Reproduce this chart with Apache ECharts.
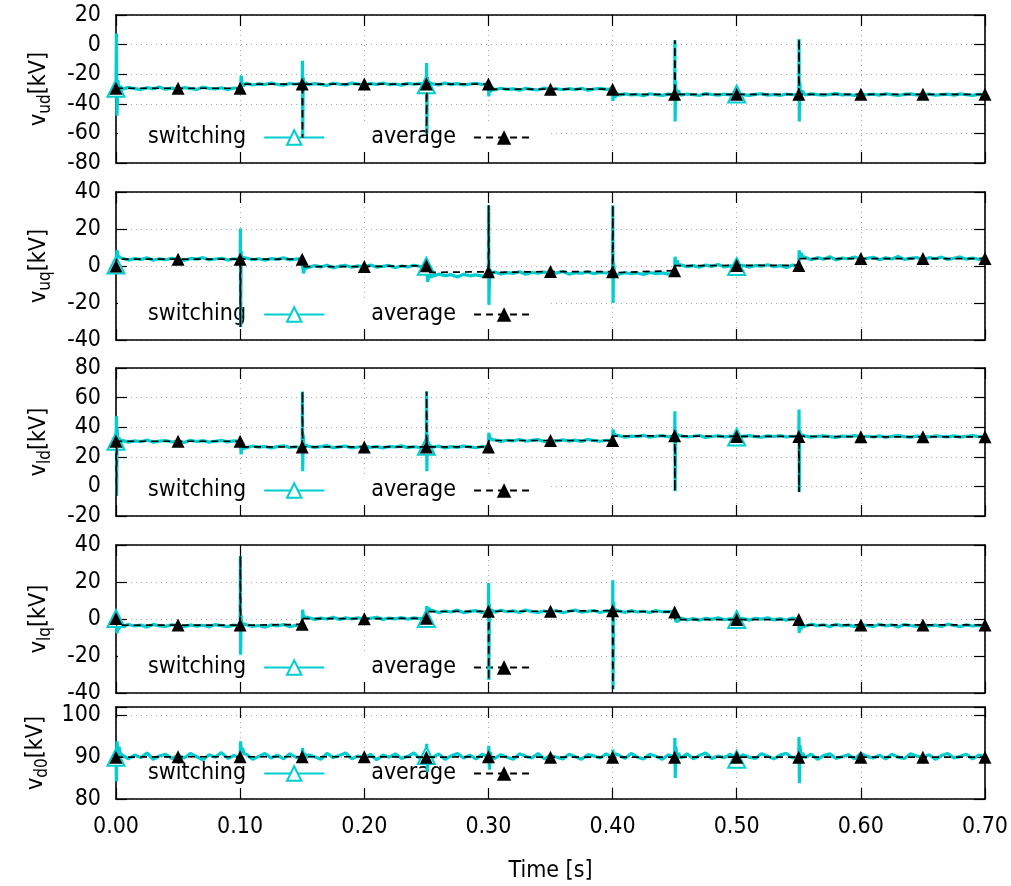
<!DOCTYPE html>
<html><head><meta charset="utf-8">
<script src="https://cdn.jsdelivr.net/npm/echarts@6/dist/echarts.min.js"></script>
<style>html,body{margin:0;padding:0;background:#fff}#c{width:1011px;height:886px}</style>
</head><body><div id="c"></div>
<script>
// ---------------- DATA ----------------
const xTickLabels = ['0.00','0.10','0.20','0.30','0.40','0.50','0.60','0.70'];
const panelSubs = ['ud', 'uq', 'ld', 'lq', 'd0'];
const yRanges = [[-80, 20, 20], [-40, 40, 20], [-20, 80, 20], [-40, 40, 20], [80, 102, 10]];
const legendNames = ['switching', 'average'];
const swStep = 0.005;          // sample spacing of switching trace
const swMarkerIdx = [0, 50, 100]; // open triangles at t = 0, 0.25, 0.50
const avgStep = 0.05;          // average markers every 0.05 s

// v_ud switching samples (t = 0 .. 0.70 step 0.005)
const sw_ud = [-29.5,
-30.2,-28.9,-29.8,-30.4,-29.1,-29.9,-28.7,-30.1,-29.4,-30.6,-29.0,-29.7,-30.3,-28.8,-29.6,-30.0,-29.2,-30.5,-29.3,-29.8,
-26.2,-27.3,-26.5,-27.0,-25.9,-26.9,-27.4,-26.3,-26.8,-25.8,-27.1,-26.4,-26.9,-27.5,-26.1,-26.7,-27.2,-26.0,-26.6,-27.3,
-26.4,-26.9,-25.9,-27.0,-26.6,-27.4,-26.2,-26.8,-26.3,-27.1,-26.5,-27.2,-26.0,-26.9,-26.4,-27.3,-26.7,-26.1,-27.0,-26.6,
-30.6,-29.5,-30.3,-29.9,-30.8,-29.6,-30.2,-30.7,-29.4,-30.1,-29.8,-30.5,-29.7,-30.4,-29.5,-30.9,-30.0,-29.6,-30.3,-29.9,
-34.2,-33.3,-34.0,-33.6,-34.5,-33.2,-33.9,-34.3,-33.5,-33.8,-34.1,-33.4,-33.9,-34.4,-33.1,-33.7,-34.2,-33.5,-34.0,-33.3,
-33.8,-34.3,-33.6,-33.2,-34.1,-33.7,-34.4,-33.4,-33.9,-33.5,-34.0,-33.3,-33.8,-34.2,-33.6,-33.1,-34.0,-33.7,-34.3,-33.4,
-33.9,-33.5,-34.1,-33.2,-33.8,-34.4,-33.6,-33.3,-34.0,-33.7,-33.4,-34.2,-33.8,-33.5,-34.1,-33.3,-33.9,-34.3,-33.6,-33.8];
const swEv_ud = [[0.0003,7.5],[0.0008,-48],[0.0015,-24],[0.0025,-33],[0.0035,-28],
[0.1003,-32],[0.1008,-21],[0.1015,-25],[0.1025,-28],
[0.1502,-11],[0.1504,-63],[0.1508,-22],[0.1515,-30],[0.1525,-25.5],
[0.2502,-12.5],[0.2504,-60],[0.2508,-22],[0.2515,-30],[0.2525,-25.5],
[0.3003,-35],[0.3010,-27],[0.3020,-32],[0.3030,-29],
[0.4003,-38],[0.4010,-31],[0.4020,-36],[0.4030,-32.5],
[0.4502,3],[0.4504,-52],[0.4508,-25],[0.4515,-38],[0.4525,-31],
[0.5502,3.8],[0.5504,-52],[0.5508,-25],[0.5515,-38],[0.5525,-31]];
const avg_ud = [-29.5,-29.5,-29.5,-26.7,-26.7,-26.7,-26.7,-30.1,-30.1,-33.6,-33.6,-33.6,-33.6,-33.6,-33.6];
const avgEv_ud = [[0.1003,-26.7],[0.1502,-63],[0.1504,-26.7],[0.2502,-60],[0.2504,-26.7],
[0.3003,-30.1],[0.4003,-33.6],[0.4502,3],[0.4504,-33.6],[0.5502,3.8],[0.5504,-33.6]];

// v_uq
const sw_uq = [0.5,
4.3,3.2,4.0,3.5,4.4,3.1,3.9,3.4,4.2,3.6,3.0,4.1,3.7,4.5,3.3,3.8,4.2,3.2,3.9,3.5,
4.3,3.4,3.9,3.1,4.0,3.6,4.4,3.3,3.8,3.7,
-0.8,0.2,-0.5,0.4,-1.0,-0.1,0.3,-0.7,0.1,-0.4,0.5,-0.6,-0.2,0.3,-0.9,0.0,-0.5,0.4,-0.3,-0.1,
-5.6,-4.4,-5.2,-4.7,-5.9,-4.5,-5.3,-4.8,-5.5,-4.9,
-3.2,-4.3,-3.6,-4.0,-3.1,-4.5,-3.5,-3.9,-3.3,-4.2,-3.7,-3.0,-4.4,-3.6,-3.9,-3.2,-4.1,-3.5,-3.8,-3.4,
-4.5,-3.6,-4.2,-3.8,-4.6,-3.5,-4.1,-3.7,-4.4,-3.9,
0.6,-0.4,0.2,-0.7,0.5,-0.2,0.8,-0.5,0.1,-0.3,0.4,-0.6,0.3,-0.1,0.7,-0.4,0.2,-0.8,0.5,0.0,
4.8,3.4,4.5,3.7,5.0,3.3,4.3,3.9,4.9,3.5,4.2,4.7,3.4,4.4,3.8,5.1,3.6,4.1,4.6,3.3,
4.5,3.9,4.8,3.5,4.2,4.9,3.7,4.3,3.6,4.4];
const swEv_uq = [[0.0003,3],[0.0008,8.5],[0.0015,5.5],[0.0025,6.5],[0.0035,4.5],
[0.1002,20.3],[0.1004,-33],[0.1008,8],[0.1015,1.5],[0.1025,4.5],
[0.1503,1],[0.1510,-4],[0.1520,-1.5],[0.1530,-2.5],
[0.2503,3],[0.2510,-8.5],[0.2520,-6],[0.2530,-7],
[0.3002,32.8],[0.3004,-21],[0.3008,-8],[0.3015,-2],[0.3025,-4.5],
[0.4002,32.8],[0.4004,-20],[0.4008,2],[0.4015,-3],[0.4025,-5],
[0.4503,5],[0.4510,1],[0.4520,3],[0.4530,0.5],
[0.5503,8.5],[0.5510,5],[0.5520,7],[0.5530,5]];
const avg_uq = [0,3.7,3.7,3.7,-0.3,0.2,-3.1,-3.0,-3.1,-2.5,0.3,0.3,4.0,4.0,4.0];
const avgEv_uq = [[0.0005,3.7],[0.1002,-33],[0.1004,3.7],[0.1503,-0.3],[0.2503,-3.5],
[0.3002,32.8],[0.3004,-3.5],[0.4002,32.8],[0.4004,-3.6],[0.4503,0.2],[0.5503,4.0]];

// v_ld
const sw_ld = [30.5,
31.1,29.9,30.8,30.2,31.3,29.8,30.6,31.0,30.0,30.7,29.7,31.2,30.3,30.9,29.9,30.5,31.1,30.1,30.8,30.4,
26.1,27.3,26.5,27.0,25.9,26.9,27.4,26.3,26.8,25.8,27.1,26.4,26.9,27.5,26.1,26.7,27.2,26.0,26.6,27.3,
26.4,26.9,25.9,27.0,26.6,27.4,26.2,26.8,26.3,27.1,26.5,27.2,26.0,26.9,26.4,27.3,26.7,26.1,27.0,26.6,
31.5,30.4,31.2,30.8,31.7,30.5,31.1,31.6,30.3,31.0,30.7,31.4,30.6,31.3,30.4,31.8,30.9,30.5,31.2,30.8,
34.3,33.2,34.0,33.6,34.5,33.2,33.9,34.3,33.5,33.8,34.1,33.4,33.9,34.4,33.1,33.7,34.2,33.5,34.0,33.3,
33.8,34.3,33.6,33.2,34.1,33.7,34.4,33.4,33.9,33.5,34.0,33.3,33.8,34.2,33.6,33.1,34.0,33.7,34.3,33.4,
33.9,33.5,34.1,33.2,33.8,34.4,33.6,33.3,34.0,33.7,33.4,34.2,33.8,33.5,34.1,33.3,33.9,34.3,33.6,33.8];
const swEv_ld = [[0.0003,47.4],[0.0005,-6.5],[0.0009,40],[0.0015,26],[0.0025,33],[0.0035,29.5],
[0.1003,28],[0.1008,21.6],[0.1015,29],[0.1025,25.5],
[0.1502,64.2],[0.1504,10.3],[0.1508,35],[0.1515,23],[0.1525,28],
[0.2502,64.2],[0.2504,10.3],[0.2508,35],[0.2515,23],[0.2525,28],
[0.3003,36.2],[0.3010,33],[0.3020,32],[0.3030,31.5],
[0.4003,38.4],[0.4010,35.5],[0.4020,36],[0.4030,34.5],
[0.4502,50.8],[0.4504,-3.2],[0.4508,38],[0.4515,31],[0.4525,35],
[0.5502,52],[0.5504,-3.8],[0.5508,38],[0.5515,31],[0.5525,35]];
const avg_ld = [30.5,30.5,30.5,26.7,26.7,26.7,26.7,31.0,31.0,34.2,33.8,33.8,33.5,33.5,33.5];
const avgEv_ld = [[0.0003,-6.5],[0.0006,30.5],[0.1003,26.7],[0.1502,64.2],[0.1504,26.7],
[0.2502,64.2],[0.2504,26.7],[0.3003,31.0],[0.4003,34.0],[0.4502,-3.2],[0.4504,34.0],
[0.5502,-3.8],[0.5504,33.8]];

// v_lq
const sw_lq = [0.3,
-4.1,-3.0,-3.8,-3.3,-4.4,-2.9,-3.7,-4.0,-3.1,-3.6,-4.2,-3.2,-3.9,-3.4,-4.3,-3.0,-3.6,-4.1,-3.3,-3.8,
-3.1,-4.0,-3.5,-4.4,-3.2,-3.7,-3.0,-4.2,-3.4,-3.6,
0.8,-0.2,0.5,0.0,0.9,-0.3,0.6,0.1,0.7,-0.1,0.4,0.9,-0.2,0.5,0.1,0.8,-0.1,0.6,0.2,0.3,
4.6,3.5,4.3,3.8,4.8,3.4,4.1,4.5,3.6,4.2,3.7,4.7,3.9,4.4,3.5,4.9,4.0,3.6,4.3,3.8,
4.5,3.4,4.2,4.8,3.7,4.1,4.6,3.5,4.4,3.9,4.3,3.6,4.5,3.8,4.2,3.5,4.6,3.9,4.1,3.7,
0.5,-0.5,0.2,-0.7,0.4,-0.2,0.6,-0.4,0.1,-0.3,0.3,-0.6,0.4,-0.1,0.6,-0.5,0.2,-0.7,0.5,-0.2,
-3.9,-2.8,-3.6,-3.1,-4.2,-2.9,-3.7,-3.3,-4.0,-3.0,-3.5,-4.1,-2.9,-3.8,-3.2,-4.3,-3.0,-3.6,-3.9,-3.1,
-3.7,-3.3,-4.0,-2.8,-3.5,-4.1,-3.2,-3.8,-3.4,-3.6];
const swEv_lq = [[0.0003,-3],[0.0008,-7.6],[0.0015,-5.5],[0.0025,-6],[0.0035,-4.2],
[0.1002,34],[0.1004,-19.3],[0.1008,2],[0.1015,-6],[0.1025,-2.5],
[0.1503,5],[0.1510,1.5],[0.1520,2.5],[0.1530,1],
[0.2503,7],[0.2510,4],[0.2520,6],[0.2530,4.5],
[0.3002,19.5],[0.3004,-33],[0.3008,8],[0.3015,2],[0.3025,5],
[0.4002,21],[0.4004,-38],[0.4008,9],[0.4015,2.5],[0.4025,5],
[0.4503,4.5],[0.4510,-1.5],[0.4520,-2.5],[0.4530,-1],
[0.5503,-7.5],[0.5510,-4],[0.5520,-5.5],[0.5530,-4]];
const avg_lq = [0.3,-3.3,-3.3,-2.9,0.2,0.4,4.2,4.2,4.5,3.8,-0.3,-0.3,-3.2,-3.2,-3.2];
const avgEv_lq = [[0.0005,-3.4],[0.1002,34],[0.1004,-3.4],[0.1503,0.2],[0.2503,4.0],
[0.3002,-33],[0.3004,4.2],[0.4002,-38],[0.4004,4.2],[0.4503,-0.3],[0.5503,-3.3]];

// v_d0
const sw_d0 = [90.0,
90.8,89.6,90.5,89.9,91.0,89.5,90.3,90.7,89.7,90.4,89.8,90.9,90.1,89.4,90.6,90.0,91.1,89.7,90.4,89.9,
90.7,89.5,90.2,90.9,89.8,90.5,89.6,90.8,90.0,89.7,90.6,90.1,89.5,90.9,89.9,90.4,91.0,89.6,90.3,89.8,
90.7,89.4,90.5,90.0,90.8,89.7,90.2,91.0,89.6,90.4,89.9,90.8,89.5,90.3,90.9,89.8,90.5,89.6,90.7,90.1,
89.7,90.6,90.0,89.5,90.8,90.2,89.8,90.9,89.6,90.4,90.0,89.6,90.7,90.1,89.5,90.6,90.3,89.8,90.8,89.9,
90.5,89.7,90.9,90.0,89.6,90.7,90.2,89.5,90.6,90.1,89.8,90.8,89.6,90.4,91.0,89.7,90.3,89.9,90.7,89.5,
90.6,90.0,89.7,90.8,90.2,89.6,90.5,90.9,89.8,90.3,89.9,90.7,89.5,90.4,90.8,89.7,90.1,90.6,89.6,90.9,
90.2,89.8,90.5,89.6,90.7,90.0,89.7,90.8,90.3,89.9,90.6,89.5,90.4,90.9,89.8,90.2,90.7,89.6,90.5,90.1];
const swEv_d0 = [[0.0003,84.2],[0.0008,93.8],[0.0015,91.5],[0.0025,92.5],[0.0035,90.8],
[0.1003,93.8],[0.1010,91.5],[0.1020,92.2],[0.1030,90.9],
[0.1503,92.2],[0.1510,88.8],[0.1520,91],[0.1530,89.8],
[0.2503,93.2],[0.2508,86.5],[0.2515,91.5],[0.2525,89.5],
[0.3003,92.7],[0.3008,87],[0.3015,91.2],[0.3025,89.6],
[0.4003,91.8],[0.4010,89],[0.4020,90.8],
[0.4502,94.6],[0.4505,85],[0.4510,92.5],[0.4520,89],[0.4530,91],
[0.5502,94.8],[0.5505,83.8],[0.5510,92.8],[0.5520,89],[0.5530,91]];
const avg_d0 = [90.0,90.1,90.1,90.1,90.1,90.0,90.1,90.0,90.0,90.0,90.0,90.0,90.0,90.0,90.0];
const avgEv_d0 = [];

const swData = [sw_ud, sw_uq, sw_ld, sw_lq, sw_d0];
const swEvents = [swEv_ud, swEv_uq, swEv_ld, swEv_lq, swEv_d0];
const avgData = [avg_ud, avg_uq, avg_ld, avg_lq, avg_d0];
const avgEvents = [avgEv_ud, avgEv_uq, avgEv_ld, avgEv_lq, avgEv_d0];

// ---------------- STYLE / LAYOUT ----------------
const FONT = "'DejaVu Sans Condensed','DejaVu Sans',sans-serif";
const FS = 23;
const CYAN = '#00ced1';
const gridTops = [15, 192, 368, 545, 707];
const gridHeights = [148, 148, 148, 148, 92];
const LEFT = 116, RIGHT = 26;

function buildSw(base, ev) {
  const pts = base.map((v, i) => ({ t: i * swStep, v, mark: swMarkerIdx.indexOf(i) >= 0 }));
  ev.forEach(([t, v]) => pts.push({ t, v, mark: false }));
  pts.sort((a, b) => a.t - b.t);
  return pts.map(p => p.mark ? { value: [p.t, p.v] } : { value: [p.t, p.v], symbol: 'none' });
}
function buildAvg(marks, ev) {
  const pts = marks.map((v, i) => ({ t: i * avgStep, v, mark: true }));
  ev.forEach(([t, v]) => pts.push({ t, v, mark: false }));
  pts.sort((a, b) => a.t - b.t);
  return pts.map(p => p.mark ? { value: [p.t, p.v] } : { value: [p.t, p.v], symbol: 'none' });
}

const grids = [], xAxes = [], yAxes = [], legends = [], series = [];
const axisLine = { show: true, onZero: false, lineStyle: { color: '#000', width: 1.6 } };
const tick = { show: true, inside: true, length: 11, lineStyle: { color: '#000', width: 1.2 } };
const split = { show: true, lineStyle: { color: '#a8a8a8', width: 1, type: [1, 4] } };

for (let i = 0; i < 5; i++) {
  grids.push({ left: LEFT, right: RIGHT, top: gridTops[i], height: gridHeights[i], containLabel: false });
}
// bottom x axes
for (let i = 0; i < 5; i++) {
  const last = i === 4;
  xAxes.push({
    type: 'value', gridIndex: i, position: 'bottom', min: 0, max: 0.7, interval: 0.1,
    axisLine, axisTick: tick, splitLine: split,
    axisLabel: { show: last, margin: 17, fontFamily: FONT, fontSize: FS, color: '#000',
      formatter: v => xTickLabels[Math.round(v / 0.1)] || '' },
    name: last ? 'Time [s]' : '', nameLocation: 'middle', nameGap: 61,
    nameTextStyle: { fontFamily: FONT, fontSize: FS, color: '#000' }
  });
}
// top x axes (mirror ticks)
for (let i = 0; i < 5; i++) {
  xAxes.push({ type: 'value', gridIndex: i, position: 'top', min: 0, max: 0.7, interval: 0.1,
    axisLine, axisTick: tick, splitLine: { show: false }, axisLabel: { show: false } });
}
// left y axes
for (let i = 0; i < 5; i++) {
  const [mn, mx, iv] = yRanges[i];
  yAxes.push({
    type: 'value', gridIndex: i, position: 'left', min: mn, max: mx, interval: iv,
    axisLine, axisTick: tick, splitLine: split,
    axisLabel: { margin: 15, fontFamily: FONT, fontSize: FS, color: '#000',
      formatter: v => (Math.abs(v % iv) < 1e-9 ? String(v) : '') },
    name: '{m|v}{s|' + panelSubs[i] + '}{m|[kV]}', nameLocation: 'middle', nameRotate: 90, nameGap: 62,
    nameTextStyle: { fontFamily: FONT, color: '#000',
      rich: {
        m: { fontFamily: FONT, fontSize: FS, color: '#000', lineHeight: 30, verticalAlign: 'middle' },
        s: { fontFamily: FONT, fontSize: 17, color: '#000', lineHeight: 30, verticalAlign: 'bottom' }
      } }
  });
}
// right y axes (mirror ticks)
for (let i = 0; i < 5; i++) {
  const [mn, mx, iv] = yRanges[i];
  yAxes.push({ type: 'value', gridIndex: i, position: 'right', min: mn, max: mx, interval: iv,
    axisLine, axisTick: tick, splitLine: { show: false }, axisLabel: { show: false } });
}
for (let i = 0; i < 5; i++) {
  const bottom = gridTops[i] + gridHeights[i];
  legends.push({
    z: 1, data: legendNames, left: 118, top: bottom - 40, orient: 'horizontal', align: 'right',
    itemWidth: 60, itemHeight: 18, itemGap: 46, padding: [3, 16, 3, 30], backgroundColor: '#fff',
    selectedMode: false, formatter: n => n + '  ',
    textStyle: { fontFamily: FONT, fontSize: FS, color: '#000' }
  });
  series.push({
    name: legendNames[0], type: 'line', xAxisIndex: i, yAxisIndex: i, z: 2,
    data: buildSw(swData[i], swEvents[i]),
    symbol: 'emptyTriangle', symbolSize: 17,
    lineStyle: { color: CYAN, width: 3.2 }, itemStyle: { color: CYAN },
    silent: true, animation: false
  });
  series.push({
    name: legendNames[1], type: 'line', xAxisIndex: i, yAxisIndex: i, z: 3,
    data: buildAvg(avgData[i], avgEvents[i]),
    symbol: 'triangle', symbolSize: 13,
    lineStyle: { color: '#000', width: 1.7, type: [7, 5] }, itemStyle: { color: '#000' },
    silent: true, animation: false
  });
}

const chart = echarts.init(document.getElementById('c'), null, { renderer: 'canvas' });
chart.setOption({ animation: false, backgroundColor: '#fff', grid: grids, xAxis: xAxes, yAxis: yAxes, legend: legends, series });
</script></body></html>
